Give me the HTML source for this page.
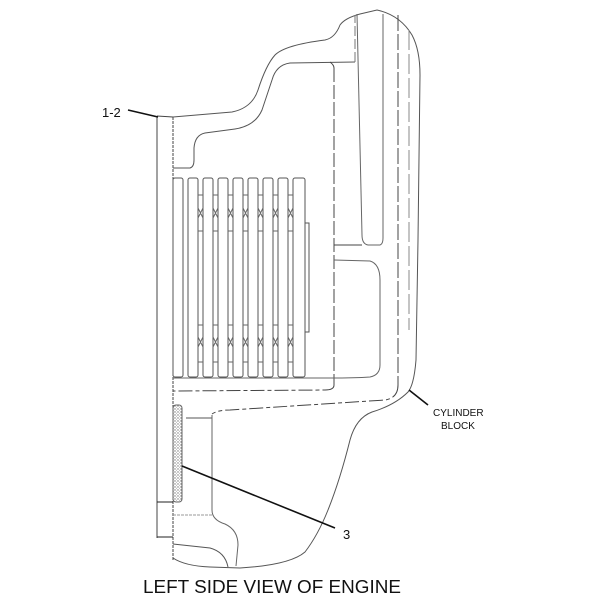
<!DOCTYPE html>
<html><head><style>
html,body{margin:0;padding:0;background:#fff;}
svg{display:block;}
text{font-family:"Liberation Sans",Arial,sans-serif;fill:#111;}
</style></head><body>
<svg width="600" height="600" viewBox="0 0 600 600" xmlns="http://www.w3.org/2000/svg">
<defs>
<pattern id="dots" width="3" height="3" patternUnits="userSpaceOnUse">
<rect width="3" height="3" fill="#fff"/><circle cx="1" cy="1" r="0.7" fill="#777"/><circle cx="2.5" cy="2.3" r="0.5" fill="#999"/>
</pattern>
</defs>
<g fill="none" stroke="#444" stroke-width="1">
<line x1="157" y1="116" x2="157" y2="538"/>
<line x1="157" y1="116" x2="173" y2="117"/>
<line x1="173" y1="117" x2="173" y2="560" stroke-dasharray="3,1"/>
<line x1="157" y1="502" x2="173" y2="502" stroke="#222"/>
<line x1="157" y1="537" x2="173" y2="537" stroke="#222"/>
<path d="M173,117 L232,112 Q252,108 258,90 Q266,65 275,55 Q285,45 325,40 Q335,38 340,25 Q345,18 360,14 L377,10 Q400,15 412,35 Q420,50 420,75 L418,240 L416,360 Q414,385 408,392 Q395,405 372,412 Q356,418 350,440 Q340,480 328,510 Q318,535 305,552 Q290,565 240,568 L210,567 Q185,566 173,558" stroke="#555"/>
<path d="M173,168 L190,168 Q194,167 194,160 L194,148 Q195,135 205,133 L235,129 Q255,126 262,110 L272,80 Q276,65 290,63 L355,62" stroke="#555"/>
<path d="M357,14 L362,235 Q362,244 368,245 L380,245 Q383,244 383,238 L383,14" stroke="#666"/>
<line x1="355" y1="62" x2="355" y2="15" stroke="#777" stroke-dasharray="10,3"/>
<path d="M334,68 Q334,65 330,62" />
<line x1="334" y1="68" x2="334" y2="385" stroke-dasharray="14,3"/>
<path d="M334,385 Q334,390 325,390 L173,391" stroke-dasharray="14,3,4,3"/>
<line x1="334" y1="245" x2="362" y2="245"/>
<path d="M334,260 L370,261 Q380,264 380,280 L380,365 Q380,375 370,377 Q355,378 330,378 L173,378" stroke="#666"/>
<line x1="398" y1="15" x2="398" y2="385" stroke-dasharray="16,3"/>
<path d="M398,385 Q398,398 385,400 L230,410 Q218,410 212,414" stroke-dasharray="14,3,4,3"/>
<line x1="186" y1="418" x2="212" y2="418" stroke="#555"/>
<line x1="409" y1="30" x2="409" y2="330" stroke="#888" stroke-dasharray="20,4"/>
<path d="M212,415 L212,510 Q212,520 225,524 Q238,530 238,545 L236,566" stroke="#666"/>
<line x1="173" y1="515" x2="212" y2="515" stroke="#999" stroke-dasharray="3,1"/>
<path d="M173,544 L210,548 Q225,552 228,567" stroke="#555"/>
</g>
<g fill="none" stroke="#555" stroke-width="1">
<rect x="173" y="178" width="10" height="199" rx="2"/>
<rect x="188" y="178" width="10" height="199" rx="2"/>
<rect x="203" y="178" width="10" height="199" rx="2"/>
<rect x="218" y="178" width="10" height="199" rx="2"/>
<rect x="233" y="178" width="10" height="199" rx="2"/>
<rect x="248" y="178" width="10" height="199" rx="2"/>
<rect x="263" y="178" width="10" height="199" rx="2"/>
<rect x="278" y="178" width="10" height="199" rx="2"/>
<rect x="293" y="178" width="12" height="199" rx="2"/>
<rect x="305" y="223" width="4" height="109"/>
<g stroke="#666">
<path d="M198,195 H203 M198,231 H203 M213,195 H218 M213,231 H218 M228,195 H233 M228,231 H233 M243,195 H248 M243,231 H248 M258,195 H263 M258,231 H263 M273,195 H278 M273,231 H278 M288,195 H293 M288,231 H293"/>
<path d="M198,325 H203 M198,362 H203 M213,325 H218 M213,362 H218 M228,325 H233 M228,362 H233 M243,325 H248 M243,362 H248 M258,325 H263 M258,362 H263 M273,325 H278 M273,362 H278 M288,325 H293 M288,362 H293"/>
<path d="M198,208 L203,218 M203,208 L198,218 M213,208 L218,218 M218,208 L213,218 M228,208 L233,218 M233,208 L228,218 M243,208 L248,218 M248,208 L243,218 M258,208 L263,218 M263,208 L258,218 M273,208 L278,218 M278,208 L273,218 M288,208 L293,218 M293,208 L288,218"/>
<path d="M198,337 L203,347 M203,337 L198,347 M213,337 L218,347 M218,337 L213,347 M228,337 L233,347 M233,337 L228,347 M243,337 L248,347 M248,337 L243,347 M258,337 L263,347 M263,337 L258,347 M273,337 L278,347 M278,337 L273,347 M288,337 L293,347 M293,337 L288,347"/>
</g>
</g>
<rect x="173" y="405" width="9" height="97" rx="3" fill="url(#dots)" stroke="#666"/>
<g stroke="#111" stroke-width="1.6" fill="none">
<line x1="128" y1="110" x2="158" y2="117"/>
<line x1="182" y1="466" x2="335" y2="528"/>
<line x1="409" y1="390" x2="428" y2="405"/>
</g>
<text x="102" y="117" font-size="13">1-2</text>
<text x="343" y="539" font-size="13">3</text>
<text x="433" y="416" font-size="10">CYLINDER</text>
<text x="441" y="429" font-size="10">BLOCK</text>
<text x="143" y="593" font-size="18" textLength="258" lengthAdjust="spacingAndGlyphs">LEFT SIDE VIEW OF ENGINE</text>
</svg>
</body></html>
